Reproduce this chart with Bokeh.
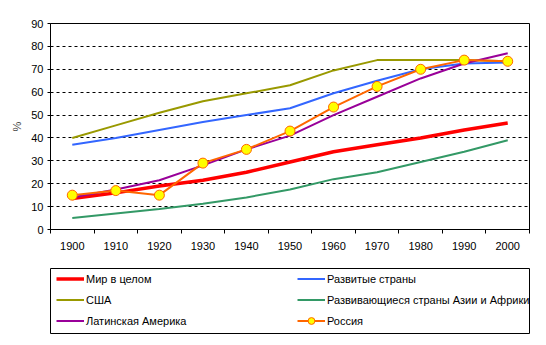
from bokeh.plotting import figure
from bokeh.models import Legend, LegendItem, FixedTicker
from bokeh.layouts import column
from bokeh.embed import file_html
from bokeh.resources import INLINE

years = [1900, 1910, 1920, 1930, 1940, 1950, 1960, 1970, 1980, 1990, 2000]
world = [13.5, 16, 19, 21.5, 25, 29.5, 34, 37, 40, 43.5, 46.5]
developed = [37, 40, 43.5, 47, 50, 53, 59.5, 65, 70, 72.5, 73]
usa = [40, 45.5, 51, 56, 59.5, 63, 69.5, 74, 74, 74, 73.5]
developing = [5, 7, 9, 11.3, 14, 17.5, 22, 25, 29.5, 34, 39]
latin = [14, 17.5, 21.5, 28, 35, 41, 50, 58, 66, 72.5, 77]
russia = [15, 17, 15, 29, 35, 43, 53.5, 62.5, 70, 74, 73.5]

names = ["Мир в целом", "Развитые страны", "США",
         "Развивающиеся страны Азии и Африки", "Латинская Америка", "Россия"]
colors = ["#FF0000", "#3366FF", "#999900", "#339966", "#990099", "#FF6600"]
widths = [3.5, 2, 2, 2, 2, 2]
series = [world, developed, usa, developing, latin, russia]
y_ticks = [0, 10, 20, 30, 40, 50, 60, 70, 80, 90]

FONT = "Liberation Sans"

p = figure(width=546, height=258, output_backend="svg", toolbar_location=None,
           x_range=(1895, 2005), y_range=(0, 90),
           min_border_left=50, min_border_right=17, min_border_top=23, min_border_bottom=29)
p.background_fill_color = "white"
p.border_fill_color = "white"
p.outline_line_color = "black"
p.outline_line_width = 1

p.xgrid.grid_line_color = None
p.ygrid.grid_line_color = "black"
p.ygrid.grid_line_dash = "3 3"
p.ygrid.grid_line_width = 1

p.yaxis.ticker = FixedTicker(ticks=y_ticks)
p.xaxis.ticker = FixedTicker(ticks=years, minor_ticks=[y - 5 for y in years] + [2005])
for ax in (p.xaxis[0], p.yaxis[0]):
    ax.axis_line_color = "black"
    ax.major_tick_line_color = "black"
    ax.minor_tick_line_color = "black"
    ax.major_label_text_font = FONT
    ax.major_label_text_font_size = "11px"
    ax.major_label_text_color = "black"
p.xaxis.major_tick_out = 0
p.xaxis.major_tick_in = 0
p.xaxis.minor_tick_out = 4
p.xaxis.minor_tick_in = 0
p.xaxis.major_label_standoff = 8
p.yaxis.major_tick_out = 3
p.yaxis.major_tick_in = 0
p.yaxis.minor_tick_line_color = None
p.yaxis.major_label_standoff = 4
p.yaxis.axis_label = "%"
p.yaxis.axis_label_text_font = FONT
p.yaxis.axis_label_text_font_size = "11px"
p.yaxis.axis_label_text_font_style = "normal"
p.yaxis.axis_label_standoff = 5

for s, c, w in zip(series, colors, widths):
    p.line(years, s, line_color=c, line_width=w)
p.scatter(years, russia, size=10, fill_color="#FFFF00", line_color="#FF6600", line_width=1)

# legend figure: its frame is the legend box
q = figure(width=546, height=87, output_backend="svg", toolbar_location=None,
           x_range=(0, 1), y_range=(0, 1), x_axis_location=None, y_axis_location=None,
           min_border_left=50, min_border_right=17, min_border_top=10, min_border_bottom=12)
q.grid.grid_line_color = None
q.outline_line_color = "black"
q.outline_line_width = 1
q.background_fill_color = "white"
q.border_fill_color = "white"
lr = []
for s, c, w in zip(series, colors, widths):
    lr.append(q.line(years, s, line_color=c, line_width=w))
lm = q.scatter(years, russia, size=5, fill_color="#FFFF00", line_color="#FF6600", line_width=1)


def make_legend(idx, x):
    its = []
    for i in idx:
        rs = [lr[i]] + ([lm] if i == 5 else [])
        its.append(LegendItem(label=names[i], renderers=rs))
    return Legend(items=its, location=(x, 4),
                  glyph_width=28, glyph_height=17, label_height=17, label_standoff=2,
                  spacing=4, padding=0, margin=0,
                  label_text_font=FONT, label_text_font_size="11px", label_text_color="black",
                  border_line_color=None, background_fill_alpha=0)


q.add_layout(make_legend([0, 2, 4], 6), "center")
q.add_layout(make_legend([1, 3, 5], 247), "center")

open("out.html", "w").write(file_html(column(p, q), INLINE))
